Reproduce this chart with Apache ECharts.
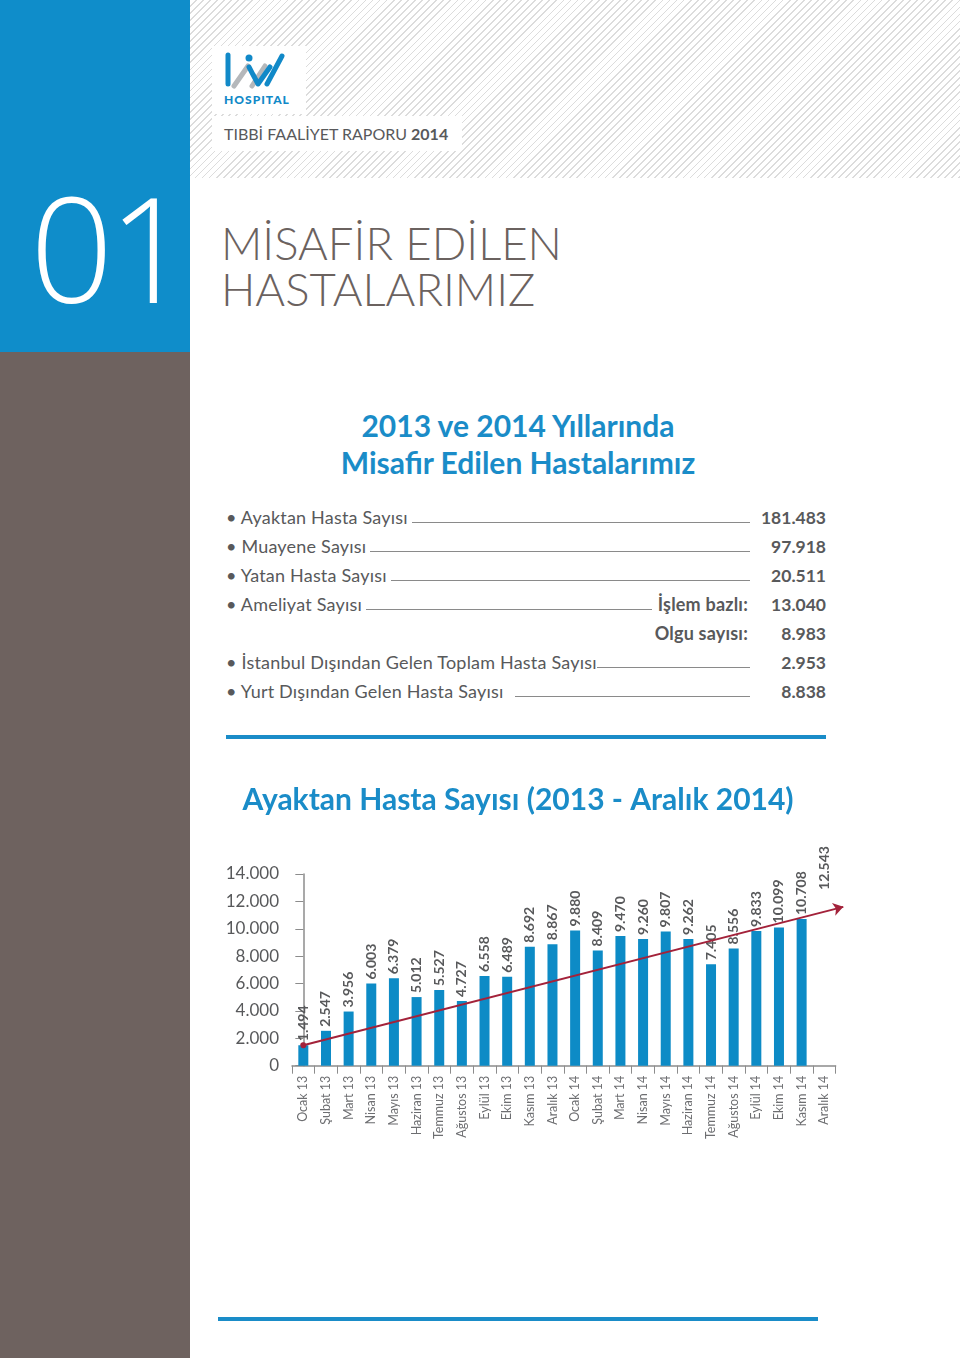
<!DOCTYPE html>
<html>
<head>
<meta charset="utf-8">
<script src="https://cdn.jsdelivr.net/npm/echarts@6/dist/echarts.min.js"></script>
<style>
  html, body { margin:0; padding:0; }
  body { width:960px; height:1358px; position:relative; background:#fff; font-family:Lato, "Open Sans", sans-serif; color:#58595b; overflow:hidden; }
  .blue { position:absolute; left:0; top:0; width:190px; height:352px; background:#0f8dca; }
  .brown { position:absolute; left:0; top:352px; width:190px; height:1006px; background:#6e625f; }
  .num { position:absolute; left:30px; top:174px; font-size:146px; font-weight:200; color:#fff; letter-spacing:-5px; line-height:1; font-family:"Open Sans", Lato, sans-serif; }
  .hatch { position:absolute; left:190px; top:0; width:770px; height:178px;
    background: repeating-linear-gradient(135deg, #ffffff 0px, #ffffff 3.8px, #dcdcdc 3.8px, #dcdcdc 5px); }
  .logo { position:absolute; left:212px; top:46px; width:94px; height:68px; background:#fff; }
  .report { position:absolute; left:212px; top:116px; width:250px; height:35px; background:#fff; font-size:16px; line-height:35px; color:#58595b; }
  .report span { margin-left:12px; }
  .title { position:absolute; left:221px; top:220px; font-size:45.5px; font-weight:300; color:#6b625f; line-height:46px; letter-spacing:0; }
  .head { position:absolute; left:218px; width:600px; top:407px; text-align:center; font-size:30px; font-weight:bold; color:#1a8cc8; line-height:37px; }
  .row { position:absolute; left:226px; width:600px; height:24px; font-size:18px; letter-spacing:0.2px; display:flex; align-items:flex-end; white-space:nowrap; }
  .row .fill { flex:1; border-bottom:1px solid #8a8a8a; margin:0 6px 5px 4px; }
  .row .val { font-weight:bold; text-align:right; width:70px; letter-spacing:0; font-size:17.5px; }
  .row .lbl { font-weight:bold; margin-right:20px; }
  .bl { position:absolute; left:226px; top:735px; width:600px; height:4px; background:#1a8cc8; }
  .bl2 { position:absolute; left:218px; top:1317px; width:600px; height:4px; background:#1a8cc8; }
  #chart { position:absolute; left:190px; top:760px; width:770px; height:400px; }
</style>
</head>
<body>
<div class="blue"></div>
<div class="brown"></div>
<div class="num">01</div>
<div class="hatch"></div>
<div class="logo">
  <svg width="94" height="68" viewBox="0 0 94 68">
    <path d="M16 9 L16 38" stroke="#1189c8" stroke-width="5" stroke-linecap="round"/>
    <path d="M22 40 L36 20" stroke="#b5b8bb" stroke-width="5" stroke-linecap="round"/>
    <path d="M40 40 L53 20" stroke="#b5b8bb" stroke-width="5" stroke-linecap="round"/>
    <circle cx="37" cy="12" r="3.5" fill="#1189c8"/>
    <path d="M37 21 L46 38 L58 21" stroke="#1189c8" stroke-width="5" fill="none" stroke-linecap="round" stroke-linejoin="round"/>
    <path d="M55 38 L70 10" stroke="#1189c8" stroke-width="5" stroke-linecap="round"/>
    <text x="12" y="58" font-family="Lato, sans-serif" font-weight="900" font-size="12" fill="#1189c8" letter-spacing="1">HOSPITAL</text>
  </svg>
</div>
<div class="report"><span>TIBBİ FAALİYET RAPORU <b>2014</b></span></div>
<div class="title">MİSAFİR EDİLEN<br>HASTALARIMIZ</div>
<div class="head">2013 ve 2014 Yıllarında<br>Misafir Edilen Hastalarımız</div>

<div class="row" style="top:504px">• Ayaktan Hasta Sayısı<span class="fill"></span><span class="val">181.483</span></div>
<div class="row" style="top:533px">• Muayene Sayısı<span class="fill"></span><span class="val">97.918</span></div>
<div class="row" style="top:562px">• Yatan Hasta Sayısı<span class="fill"></span><span class="val">20.511</span></div>
<div class="row" style="top:591px">• Ameliyat Sayısı<span class="fill"></span><span class="lbl">İşlem bazlı:</span><span class="val" style="width:58px">13.040</span></div>
<div class="row" style="top:620px"><span class="fill" style="border:none"></span><span class="lbl">Olgu sayısı:</span><span class="val" style="width:58px">8.983</span></div>
<div class="row" style="top:649px">• İstanbul Dışından Gelen Toplam Hasta Sayısı<span class="fill" style="margin-left:0"></span><span class="val">2.953</span></div>
<div class="row" style="top:678px">• Yurt Dışından Gelen Hasta Sayısı<span class="fill" style="margin-left:12px"></span><span class="val">8.838</span></div>
<div class="bl"></div>
<div class="bl2"></div>
<div id="chart"></div>
<script>
const categories = ['Ocak 13','Şubat 13','Mart 13','Nisan 13','Mayıs 13','Haziran 13','Temmuz 13','Ağustos 13','Eylül 13','Ekim 13','Kasım 13','Aralık 13',
  'Ocak 14','Şubat 14','Mart 14','Nisan 14','Mayıs 14','Haziran 14','Temmuz 14','Ağustos 14','Eylül 14','Ekim 14','Kasım 14','Aralık 14'];
const patients = [1494,2547,3956,6003,6379,5012,5527,4727,6558,6489,8692,8867,9880,8409,9470,9260,9807,9262,7405,8556,9833,10099,10708,12543];
const barlessCategories = ['Aralık 14'];
const trendStart = [0, 1494];
const trendEnd = [23.84, 11600];
const yTicks = [0,2000,4000,6000,8000,10000,12000,14000];

const fmt = v => String(v).replace(/\B(?=(\d{3})+(?!\d))/g, '.');

const chart = echarts.init(document.getElementById('chart'), null, {renderer:'canvas'});
chart.setOption({
  animation:false,
  title:{ text:'Ayaktan Hasta Sayısı (2013 - Aralık 2014)', left:323, top:20, textAlign:'center',
    textStyle:{ fontFamily:'Lato, sans-serif', fontSize:30, fontWeight:'bold', color:'#1a8cc8' } },
  grid:{ left:102, top:114, width:543.6, height:191.7 },
  xAxis:[{
    type:'category', data:categories,
    axisLine:{ lineStyle:{ color:'#8c8c8c', width:1.5 } },
    axisTick:{ show:true, length:8, interval:0, lineStyle:{ color:'#8c8c8c' } },
    axisLabel:{ rotate:90, interval:0, fontSize:12.5, color:'#6d6e71', margin:10, fontFamily:'Lato, sans-serif' }
  },{
    type:'value', min:-0.5, max:23.5, show:false
  }],
  yAxis:{
    type:'value', min:yTicks[0], max:yTicks[yTicks.length-1], interval:2000,
    splitLine:{ show:false },
    axisLine:{ show:true, lineStyle:{ color:'#8c8c8c', width:1.5 } },
    axisTick:{ show:true, length:8, lineStyle:{ color:'#8c8c8c' } },
    axisLabel:{ fontSize:17, color:'#58595b', margin:13, formatter:fmt, fontFamily:'Lato, sans-serif' }
  },
  series:[{
    type:'bar', barWidth:10,
    data: patients.map((v,i) => barlessCategories.includes(categories[i]) ? { value:v, itemStyle:{ color:'rgba(0,0,0,0)' } } : v),
    itemStyle:{ color:'#0d8bc6' },
    label:{ show:true, position:'top', rotate:90, align:'left', verticalAlign:'middle', distance:4,
      fontSize:14, fontWeight:'bold', color:'#58595b', formatter:p => fmt(p.value), fontFamily:'Lato, sans-serif' }
  },{
    type:'lines', coordinateSystem:'cartesian2d', xAxisIndex:1, yAxisIndex:0, z:5, silent:true, clip:false,
    symbol:['circle','arrow'], symbolSize:[6,10],
    lineStyle:{ color:'#a3223a', width:2, opacity:1 },
    data:[{ coords:[trendStart, trendEnd] }]
  }]
});
</script>
</body>
</html>
